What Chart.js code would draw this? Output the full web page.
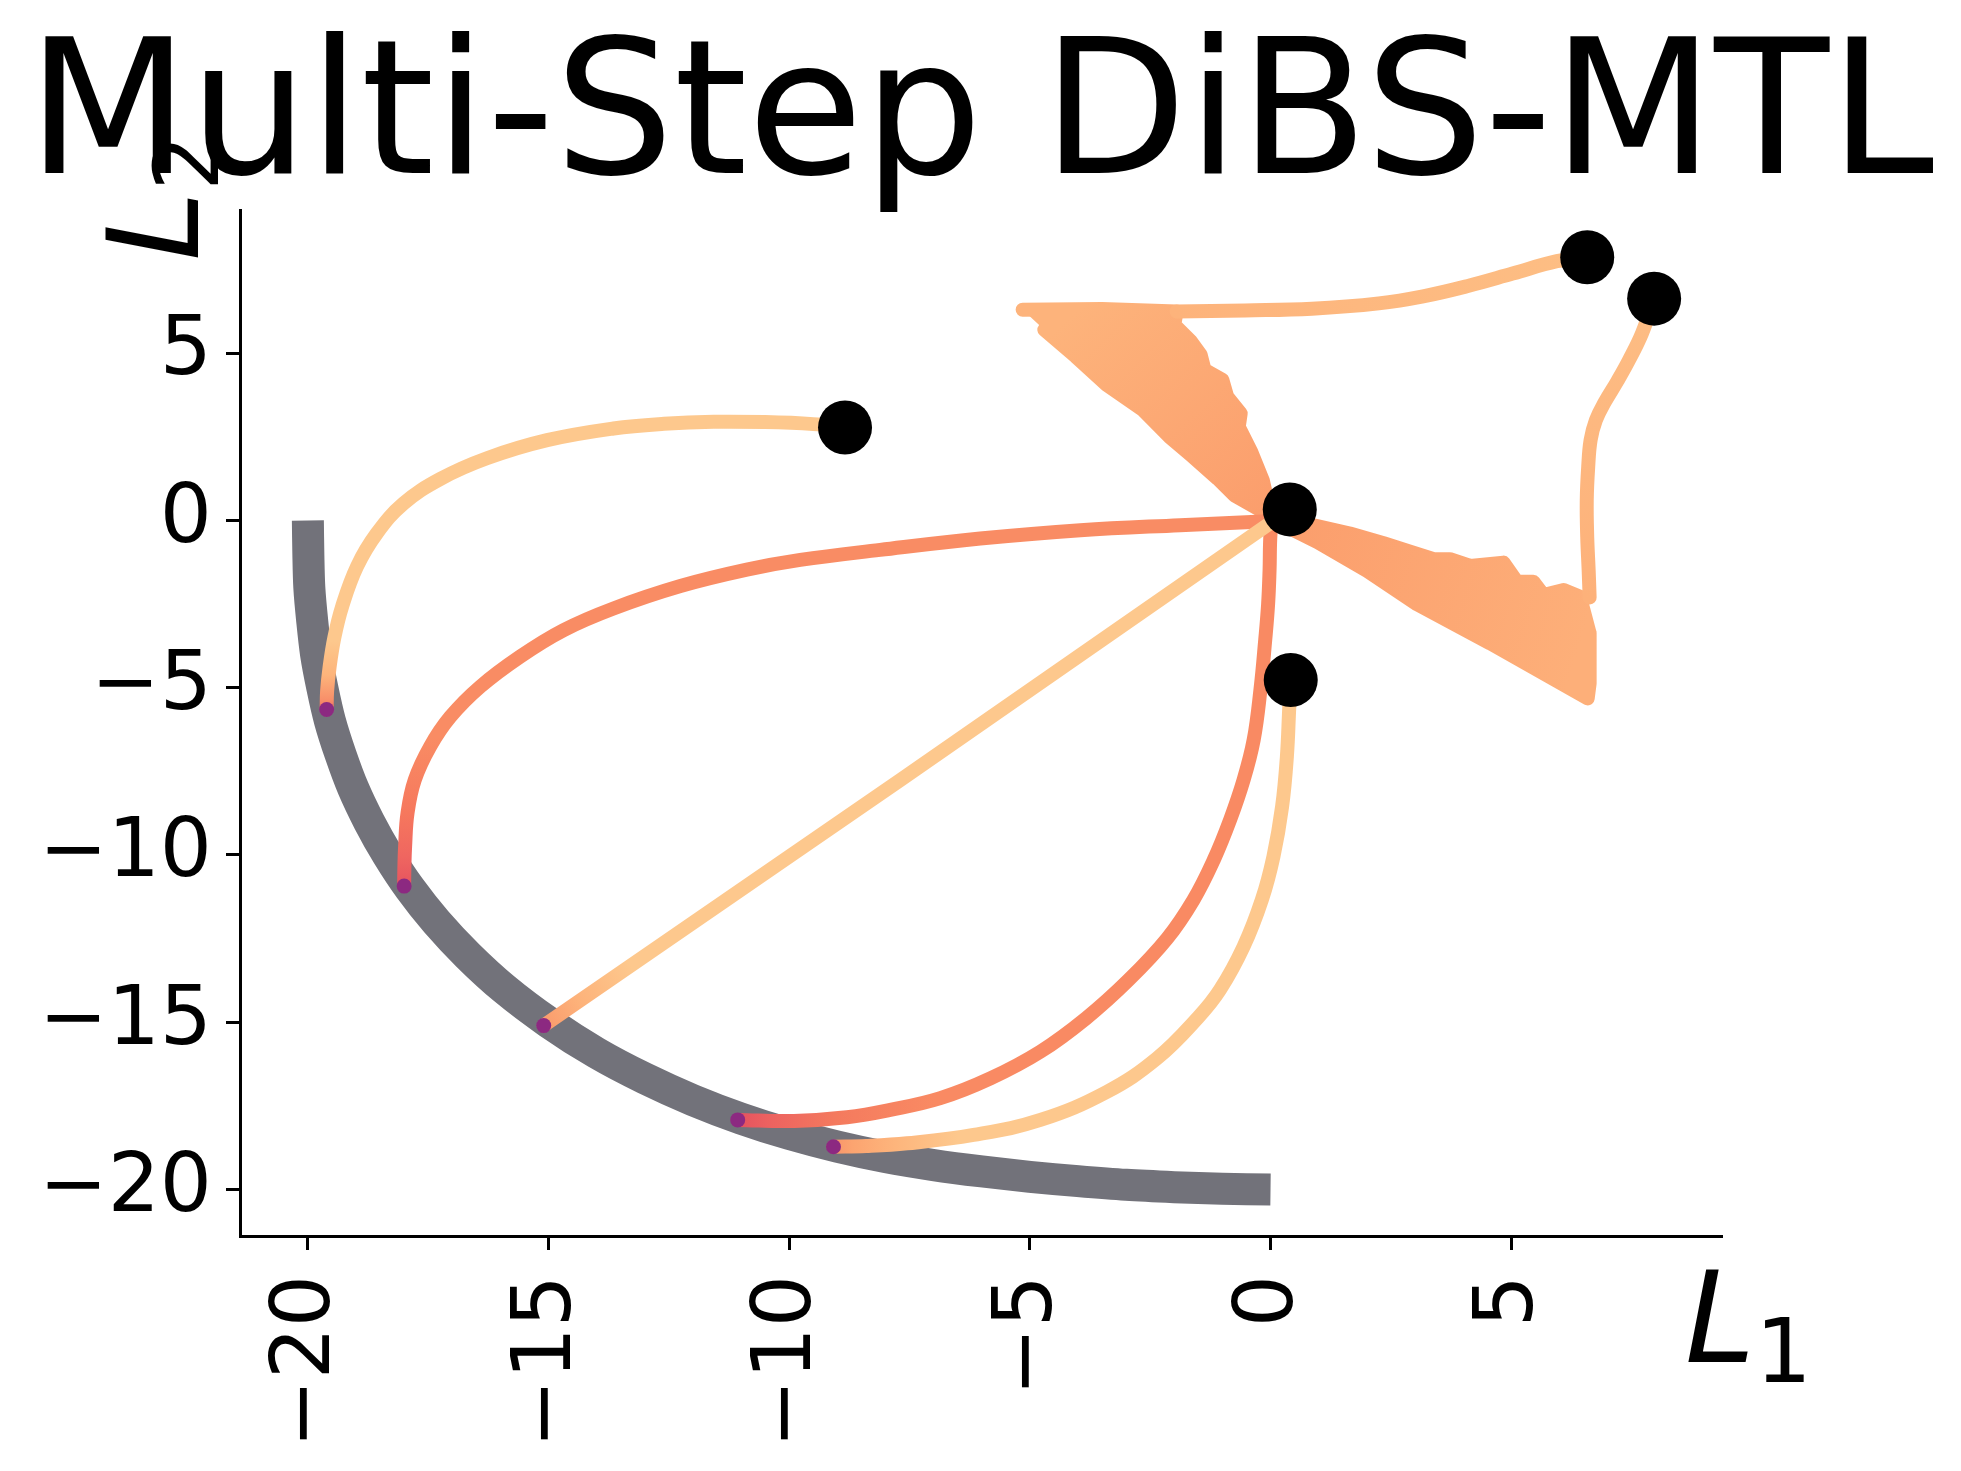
<!DOCTYPE html>
<html><head><meta charset="utf-8">
<script src="https://cdn.jsdelivr.net/npm/chart.js@4.4.0/dist/chart.umd.min.js"></script>
<style>html,body{margin:0;padding:0;background:#fff;}canvas{display:block;}</style>
</head><body>
<canvas id="c" width="1961" height="1471"></canvas>
<script>
// ---------- data ----------
const titleText = "Multi-Step DiBS-MTL";
const xTicks = [-20, -15, -10, -5, 0, 5];
const yTicks = [5, 0, -5, -10, -15, -20];

// Pareto front
const paretoX = [-20, -19.99, -19.97, -19.91, -19.83, -19.70, -19.54, -19.32, -19.06, -18.73, -18.34, -17.88, -17.33, -16.68, -15.92, -15.0, -14.0, -13.0, -12.0, -11.0, -10.0, -9.0, -8.0, -7.0, -6.0, -5.0, -4.0, -3.0, -2.0, -1.0, 0];
const paretoY = [0, -1, -2, -3, -4, -5, -6, -7, -8, -9, -10, -11, -12, -13, -14, -15, -15.92, -16.68, -17.33, -17.88, -18.34, -18.72, -19.03, -19.27, -19.46, -19.62, -19.75, -19.86, -19.93, -19.98, -20];

// trajectory A (upper left start)
const trajAX = [-8.84, -9.5, -10.5, -11.57, -12.6, -13.65, -15.03, -16.28, -17.25, -18.01, -18.57, -18.98, -19.29, -19.45, -19.55, -19.60, -19.61];
const trajAY = [2.78, 2.88, 2.94, 2.95, 2.89, 2.75, 2.40, 1.86, 1.24, 0.51, -0.39, -1.38, -2.58, -3.50, -4.40, -5.10, -5.65];

// trajectory B (start below origin)
const trajBX = [0.42, 0.39, 0.34, 0.24, 0.06, -0.18, -0.56, -1.05, -1.50, -2.36, -3.40, -4.78, -6.17, -7.55, -8.40, -9.08];
const trajBY = [-4.77, -5.57, -7.06, -8.56, -10.05, -11.34, -12.74, -14.03, -14.85, -16.08, -17.08, -17.92, -18.37, -18.62, -18.70, -18.72];

// trajectory G (start at origin, straight)
const trajGX = [0.40, -7.69, -15.10];
const trajGY = [0.33, -7.76, -15.10];

// trajectory C: top path, oscillation region, then to the front
const trajCTopX = [6.58, 5.95, 5.03, 4.10, 3.17, 2.25, 0.86, -0.53, -1.95];
const trajCTopY = [7.87, 7.75, 7.38, 7.01, 6.70, 6.49, 6.33, 6.28, 6.25];
const trajCZoneX = [-5.15, -3.5, -1.95, -2.0, -1.65, -1.45, -1.37, -1.0, -0.9, -0.62, -0.66, -0.40, -0.16, -0.05, -0.2, -0.75, -1.1, -1.65, -2.1, -2.65, -3.4, -4.05, -4.7];
const trajCZoneY = [6.30, 6.32, 6.25, 5.85, 5.35, 4.95, 4.50, 4.20, 3.70, 3.20, 2.80, 2.05, 1.20, 0.50, 0.30, 0.75, 1.25, 1.95, 2.50, 3.30, 4.05, 4.90, 5.70];
const trajCEndX = [0.10, -0.28, -1.88, -3.95, -6.03, -8.11, -9.77, -10.88, -12.26, -13.65, -14.69, -15.59, -16.42, -17.04, -17.46, -17.78, -17.93, -17.98, -17.995, -18.0];
const trajCEndY = [0.0, -0.04, -0.14, -0.29, -0.54, -0.88, -1.18, -1.47, -1.96, -2.63, -3.28, -4.07, -4.97, -5.87, -6.76, -7.76, -8.75, -9.75, -10.40, -10.93];

// trajectory D: right path, oscillation region, then to the front
const trajDTopX = [7.97, 7.72, 7.45, 7.20, 6.95, 6.76, 6.65, 6.60, 6.57, 6.58, 6.61, 6.63];
const trajDTopY = [6.63, 5.60, 4.80, 4.15, 3.55, 3.00, 2.40, 1.60, 0.60, -0.50, -1.50, -2.30];
const trajDZoneX = [0.40, 0.97, 1.65, 2.35, 2.90, 3.39, 3.73, 4.15, 4.84, 5.12, 5.46, 5.67, 6.09, 6.43, 6.63, 6.63, 6.59, 4.56, 3.04, 2.00, 0.97, 0.48];
const trajDZoneY = [0.0, -0.17, -0.39, -0.68, -0.93, -1.16, -1.16, -1.36, -1.26, -1.83, -1.83, -2.23, -2.08, -2.28, -3.37, -4.87, -5.32, -3.67, -2.50, -1.50, -0.64, -0.29];
const trajDEndX = [0.05, 0.0, -0.02, -0.05, -0.11, -0.21, -0.35, -0.56, -0.84, -1.18, -1.60, -2.15, -2.95, -3.83, -4.78, -5.82, -6.86, -7.90, -8.80, -9.90, -11.07];
const trajDEndY = [0.0, -0.39, -1.50, -2.50, -3.57, -5.07, -6.56, -7.76, -8.95, -10.15, -11.34, -12.50, -13.74, -14.88, -15.88, -16.68, -17.27, -17.62, -17.84, -17.95, -17.92];

// start and end markers
const startX = [-8.84, 0.40, 0.42, 6.58, 7.97];
const startY = [2.78, 0.33, -4.77, 7.87, 6.63];
const endX = [-19.61, -18.0, -15.10, -11.07, -9.08];
const endY = [-5.65, -10.93, -15.10, -17.92, -18.72];

// ---------- helpers ----------
const pts = (xs, ys) => xs.map((x, i) => ({x, y: ys[i]}));
const fmt = v => (v < 0 ? '\u2212' + Math.abs(v) : String(v));
function lin(x0, y0, x1, y1, stops) {
  return (ctx) => {
    const ch = ctx.chart, xs = ch.scales.x, ys = ch.scales.y;
    if (!ch.chartArea || !xs || !ys) return stops[0][1];
    const g = ch.ctx.createLinearGradient(xs.getPixelForValue(x0), ys.getPixelForValue(y0), xs.getPixelForValue(x1), ys.getPixelForValue(y1));
    stops.forEach(([o, c]) => g.addColorStop(o, c));
    return g;
  };
}
const lineBase = {showLine: true, pointRadius: 0, pointHoverRadius: 0, borderWidth: 14, borderCapStyle: 'round', borderJoinStyle: 'round', tension: 0.4, fill: false, clip: false};

const datasets = [
  {data: pts(startX, startY), showLine: false, pointRadius: 27, pointHoverRadius: 27, pointBackgroundColor: '#000', pointBorderWidth: 0, order: 0, clip: false},
  {data: pts(endX, endY), showLine: false, pointRadius: 7.5, pointHoverRadius: 7.5, pointBackgroundColor: '#8c2981', pointBorderWidth: 0, order: 1, clip: false},
  {...lineBase, data: pts(trajAX, trajAY), order: 3,
    borderColor: lin(-19.6, -3.6, -19.6, -5.65, [[0, '#fdc88d'], [0.5, '#fdb47b'], [0.85, '#f8906a'], [1, '#f07062']])},
  {...lineBase, data: pts(trajBX, trajBY), order: 3,
    borderColor: lin(-6.5, -18.6, -9.08, -18.7, [[0, '#fdc88d'], [0.5, '#fdb57c'], [0.85, '#fca470'], [1, '#f8946a']])},
  {...lineBase, data: pts(trajGX, trajGY), order: 3, tension: 0,
    borderColor: lin(-13.3, -13.3, -15.1, -15.1, [[0, '#fdc88d'], [0.6, '#fdb27a'], [1, '#fa9a6c']])},
  {...lineBase, data: pts(trajCEndX, trajCEndY), order: 4,
    borderColor: lin(-18.0, -6.5, -18.0, -10.93, [[0, '#f98c64'], [0.5, '#f6785d'], [0.8, '#ef6660'], [1, '#e6545f']])},
  {...lineBase, data: pts(trajDEndX, trajDEndY), order: 4,
    borderColor: lin(-7.0, -17.9, -11.07, -17.9, [[0, '#f98a63'], [0.5, '#f47a5e'], [0.85, '#ec6160'], [1, '#e4525f']])},
  {...lineBase, data: pts(trajCTopX, trajCTopY), order: 5,
    borderColor: lin(6.5, 7, -2, 7, [[0, '#fdbe84'], [1, '#fdb37b']])},
  {...lineBase, data: pts(trajDTopX, trajDTopY), order: 5,
    borderColor: lin(7, 6.6, 7, -2.3, [[0, '#fdbd84'], [1, '#fdb17a']])},
  {...lineBase, data: pts(trajCZoneX, trajCZoneY), order: 6, tension: 0, fill: 'shape',
    borderColor: lin(-4, 6.3, 0, 0, [[0, '#fdb37b'], [1, '#fb9d6c']]),
    backgroundColor: lin(-4, 6.3, 0, 0, [[0, '#fdb37b'], [1, '#fb9d6c']])},
  {...lineBase, data: pts(trajDZoneX, trajDZoneY), order: 6, tension: 0, fill: 'shape',
    borderColor: lin(0, 0, 6.6, -3, [[0, '#fb9d6c'], [1, '#fdaf79']]),
    backgroundColor: lin(0, 0, 6.6, -3, [[0, '#fb9d6c'], [1, '#fdaf79']])},
  {...lineBase, data: pts(paretoX, paretoY), order: 20, borderWidth: 32, borderColor: '#72727a', borderCapStyle: 'butt', borderJoinStyle: 'round', tension: 0.3}
];

const axisLabels = {
  id: 'axisLabels',
  afterDraw(chart) {
    const {ctx, chartArea: a} = chart;
    ctx.save();
    ctx.fillStyle = '#000';
    ctx.textBaseline = 'alphabetic';
    ctx.textAlign = 'left';
    ctx.font = "italic 126px 'DejaVu Sans'";
    const w = ctx.measureText('L').width;
    const x1 = a.right - 37, y1 = a.bottom + 126;
    ctx.fillText('L', x1, y1);
    ctx.font = "89px 'DejaVu Sans'";
    ctx.fillText('1', x1 + w, y1 + 20);
    ctx.translate(a.left - 42, a.top + 51);
    ctx.rotate(-Math.PI / 2);
    ctx.font = "italic 126px 'DejaVu Sans'";
    ctx.fillText('L', 0, 0);
    ctx.font = "89px 'DejaVu Sans'";
    ctx.fillText('2', w, 20);
    ctx.restore();
  }
};

const tickFont = {family: "'DejaVu Sans'", size: 82};
new Chart(document.getElementById('c'), {
  type: 'scatter',
  data: {datasets},
  options: {
    responsive: false, animation: false, devicePixelRatio: 1,
    layout: {padding: 0},
    events: [],
    plugins: {
      legend: {display: false}, tooltip: {enabled: false},
      title: {display: true, text: titleText, color: '#000', font: {family: "'DejaVu Sans'", size: 188, lineHeight: 0.915, weight: 'normal'}, padding: {top: 38, bottom: 0}}
    },
    scales: {
      x: {
        type: 'linear', min: -21.41, max: 9.38,
        afterBuildTicks: s => { s.ticks = xTicks.map(v => ({value: v})); },
        ticks: {font: tickFont, color: '#000', minRotation: 90, maxRotation: 90, autoSkip: false, padding: 25, callback: v => fmt(v)},
        grid: {display: true, drawOnChartArea: false, drawTicks: true, tickLength: 14, tickWidth: 3, tickColor: '#000'},
        border: {display: true, color: '#000', width: 3},
        afterFit: s => { s.height = 235; }
      },
      y: {
        type: 'linear', min: -21.39, max: 9.28,
        afterBuildTicks: s => { s.ticks = yTicks.map(v => ({value: v})); },
        ticks: {font: tickFont, color: '#000', autoSkip: false, padding: 14, callback: v => fmt(v)},
        grid: {display: true, drawOnChartArea: false, drawTicks: true, tickLength: 14, tickWidth: 3, tickColor: '#000'},
        border: {display: true, color: '#000', width: 3},
        afterFit: s => { s.width = 240; }
      },
      y2: {
        type: 'linear', axis: 'y', position: 'right', display: true,
        grid: {display: false}, border: {display: false}, ticks: {display: false},
        afterFit: s => { s.width = 239; }
      }
    }
  },
  plugins: [axisLabels]
});
</script>
</body></html>
